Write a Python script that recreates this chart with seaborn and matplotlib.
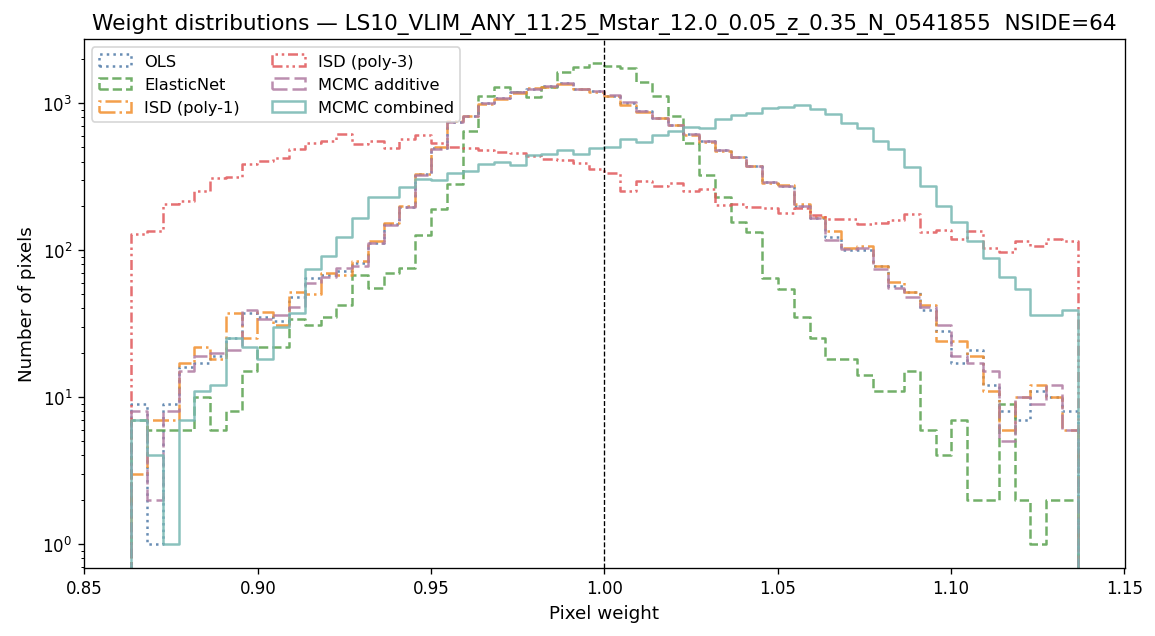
import numpy as np
import matplotlib
matplotlib.use("Agg")
import matplotlib.pyplot as plt
import matplotlib.patches as mpatches
import seaborn as sns

# histogram of pixel weights, 60 bins symmetric around 1.0
weight_min = 0.8635
weight_max = 1.1365
n_bins = 60

methods = ["OLS", "ElasticNet", "ISD (poly-1)", "ISD (poly-3)", "MCMC additive", "MCMC combined"]

counts_ols = [9, 1, 9, 16, 17, 19, 25, 37, 35, 33, 48, 64, 68, 72, 82, 112, 150, 197, 328, 492,
              745, 818, 1000, 1080, 1195, 1240, 1300, 1370, 1245, 1200, 1125, 1000, 880, 792, 712, 615, 550, 478, 430, 375,
              292, 273, 198, 166, 123, 100, 100, 78, 57, 52, 39, 28, 17, 21, 12, 8, 7, 11, 10, 8]
counts_enet = [7, 6, 6, 6, 10, 6, 8, 15, 22, 22, 34, 31, 35, 42, 68, 55, 70, 75, 126, 190,
               280, 650, 1110, 1280, 1190, 1095, 1280, 1640, 1760, 1870, 1800, 1730, 1390, 1115, 820, 535, 322, 228, 155, 132,
               64, 54, 35, 25, 18, 18, 14, 11, 11, 15, 6, 4, 7, 2, 2, 9, 2, 1, 2, 2]
counts_poly1 = [3, 7, 7, 17, 22, 18, 37, 25, 38, 31, 52, 50, 70, 68, 84, 115, 152, 200, 330, 500,
                750, 815, 990, 1070, 1180, 1260, 1290, 1360, 1250, 1190, 1120, 968, 875, 790, 708, 610, 545, 475, 432, 372,
                288, 275, 205, 168, 134, 104, 106, 78, 61, 52, 42, 24, 24, 19, 11, 6, 10, 12, 10, 6]
counts_poly3 = [128, 135, 205, 214, 251, 310, 312, 383, 405, 425, 490, 533, 550, 614, 527, 552, 498, 574, 604, 533,
                506, 498, 480, 465, 461, 436, 415, 410, 389, 358, 333, 251, 295, 273, 285, 251, 259, 202, 206, 195,
                192, 180, 194, 173, 163, 162, 150, 152, 159, 175, 133, 137, 119, 135, 104, 97, 116, 107, 119, 116]
counts_mcmc_add = [8, 2, 8, 15, 19, 20, 21, 39, 34, 36, 41, 60, 66, 75, 78, 112, 148, 195, 325, 490,
                   740, 820, 1005, 1080, 1195, 1250, 1300, 1375, 1245, 1205, 1130, 1012, 885, 795, 715, 615, 550, 478, 428, 375,
                   292, 272, 200, 166, 117, 101, 104, 74, 55, 48, 41, 31, 19, 17, 15, 5, 10, 9, 12, 6]
counts_mcmc_comb = [7, 4, 1, 7, 11, 12, 25, 22, 18, 30, 37, 74, 91, 123, 166, 231, 231, 268, 306, 302,
                    336, 345, 387, 400, 379, 444, 450, 477, 453, 495, 506, 574, 547, 607, 643, 692, 682, 777, 827, 863,
                    933, 948, 968, 909, 840, 730, 674, 552, 485, 365, 272, 199, 156, 115, 88, 66, 54, 36, 36, 39]

all_counts = [counts_ols, counts_enet, counts_poly1, counts_poly3, counts_mcmc_add, counts_mcmc_comb]

colors = ["#4e79a7", "#59a14f", "#f28e2b", "#e15759", "#b07aa1", "#76b7b2"]
linestyles = [":", "--", "-.", (0, (4, 1.5, 1, 1.5, 1, 1.5)), (0, (6, 2)), "-"]

# bin edges, padded with one empty bin each side so the steps drop to the axis
edges = np.linspace(weight_min, weight_max, n_bins + 1)
width = edges[1] - edges[0]
edges_pad = np.concatenate([[edges[0] - width], edges, [edges[-1] + width]])
centers_pad = 0.5 * (edges_pad[:-1] + edges_pad[1:])

fig, ax = plt.subplots(figsize=(9.625, 5.308), dpi=120)
fig.subplots_adjust(left=0.0727, right=0.974, top=0.937, bottom=0.107)

handles = []
for name, counts, c, ls in zip(methods, all_counts, colors, linestyles):
    w = np.concatenate([[0], counts, [0]])
    sns.histplot(x=centers_pad, weights=w, bins=edges_pad.tolist(), element="step", fill=False,
                 color=c, linestyle=ls, linewidth=1.5, alpha=0.85, ax=ax)
    handles.append(mpatches.Patch(facecolor="none", edgecolor=c, linestyle=ls,
                                  linewidth=1.5, alpha=0.85, label=name))

ax.axvline(1.0, color="black", linestyle="--", linewidth=0.8)

ax.set_yscale("log")
span = weight_max - weight_min
ax.set_xlim(weight_min - 0.05 * span, weight_max + 0.05 * span)
ymax = max(max(c) for c in all_counts)
lo, hi = 0.0, np.log10(ymax)
ax.set_ylim(10 ** (lo - 0.05 * (hi - lo)), 10 ** (hi + 0.05 * (hi - lo)))

ax.set_xlabel("Pixel weight", fontsize=11)
ax.set_ylabel("Number of pixels", fontsize=11)
ax.set_title("Weight distributions — LS10_VLIM_ANY_11.25_Mstar_12.0_0.05_z_0.35_N_0541855  NSIDE=64",
             fontsize=13)
ax.legend(handles=handles, loc="upper left", ncol=2, fontsize=9.75)

fig.savefig("out.png", dpi=120)
